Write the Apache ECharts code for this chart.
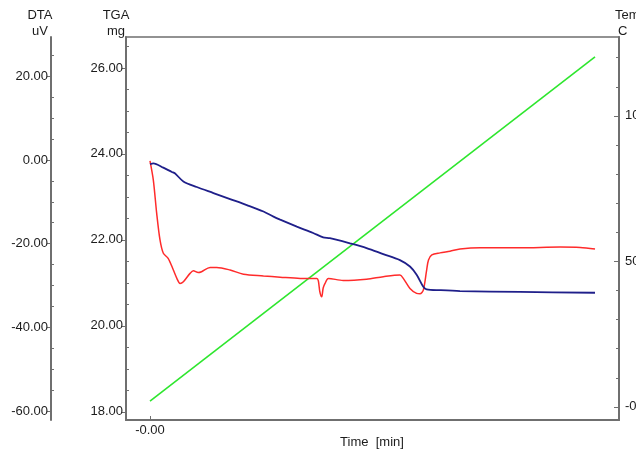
<!DOCTYPE html>
<html>
<head>
<meta charset="utf-8">
<script src="https://cdn.jsdelivr.net/npm/echarts@6/dist/echarts.min.js"></script>
<style>
  html, body { margin: 0; padding: 0; background: #fff; }
  #chart { width: 636px; height: 452px; }
</style>
</head>
<body>
<div id="chart"></div>
<script>
// Time in minutes, TGA mass in mg
const tgaTime = [0, 0.09, 0.36, 0.59, 0.67, 0.90, 1.26, 1.71, 2.16, 2.61, 3.06, 3.33, 3.51, 3.96, 4.40, 4.67, 4.85, 5.39, 5.84, 6.29, 6.74, 7.01, 7.19, 7.37, 7.46, 7.82, 8.36, 9.98, 12.0];
const tgaMass = [23.76, 23.78, 23.68, 23.58, 23.55, 23.36, 23.23, 23.09, 22.95, 22.81, 22.66, 22.54, 22.47, 22.31, 22.16, 22.06, 22.04, 21.92, 21.81, 21.67, 21.53, 21.38, 21.19, 20.91, 20.85, 20.83, 20.81, 20.79, 20.77];

// Time in minutes, DTA signal in uV
const dtaTime = [0, 0.09, 0.18, 0.27, 0.36, 0.49, 0.63, 0.73, 0.81, 0.90, 1.08, 1.17, 1.30, 1.39, 1.62, 1.80, 2.16, 2.52, 3.06, 3.51, 4.05, 4.50, 4.54, 4.58, 4.63, 4.67, 4.72, 4.81, 5.21, 5.84, 6.29, 6.74, 6.83, 7.01, 7.19, 7.28, 7.37, 7.46, 7.51, 7.60, 7.82, 8.09, 8.36, 8.90, 9.98, 11.06, 11.60, 12.0];
const dtaSignal = [-0.2, -4.8, -12.7, -19.1, -22.3, -23.5, -26.3, -28.4, -29.5, -29.1, -27.1, -26.5, -26.9, -26.7, -25.7, -25.7, -26.3, -27.3, -27.7, -28.0, -28.3, -28.3, -28.9, -31.5, -32.7, -30.6, -29.5, -28.3, -28.8, -28.5, -27.9, -27.5, -28.3, -30.7, -31.9, -32.0, -31.1, -26.3, -23.9, -22.7, -22.2, -21.8, -21.3, -21.0, -21.0, -20.8, -20.9, -21.3];

// Furnace temperature program, C
const tempTime = [0, 12.0];
const tempValue = [2.0, 120.3];

// Axis tick values
const tgaMajor = [18, 20, 22, 24, 26];
const tgaMinor = [18.5, 19, 19.5, 20.5, 21, 21.5, 22.5, 23, 23.5, 24.5, 25, 25.5, 26.5];
const dtaMajor = [20, 0, -20, -40, -60];
const dtaMinor = [25, 15, 10, 5, -5, -10, -15, -25, -30, -35, -45, -50, -55];
const tempMajor = [0, 50, 100];
const tempMinor = [10, 20, 30, 40, 60, 70, 80, 90, 110, 120];
const timeTicks = [0];

const axisGray = '#6f6f6f';
const textColor = '#1c1c1c';
const font = 'Liberation Sans, Arial, sans-serif';

function pairs(xs, ys) { return xs.map((x, i) => [x, ys[i]]); }
function fmt2(v) { return v.toFixed(2); }
function fmtSignedZero(v) { return v === 0 ? '-0.00' : v.toFixed(2); }

function majorAxis(opts) {
  return Object.assign({
    type: 'value',
    axisLine: { show: true, onZero: false, lineStyle: { color: axisGray, width: 2 } },
    axisTick: { show: true, inside: !!opts.tickInside, length: opts.tickInside ? 5 : 4, customValues: opts.ticks, lineStyle: { color: axisGray, width: 1 } },
    axisLabel: { show: true, customValues: opts.ticks, formatter: opts.formatter || fmt2, color: textColor, fontSize: 13, fontFamily: font, margin: opts.labelMargin || 3 },
    splitLine: { show: false },
    minorTick: { show: false }
  }, opts.extra);
}
function minorAxis(opts) {
  return Object.assign({
    type: 'value',
    axisLine: { show: false, onZero: false },
    axisTick: { show: true, inside: true, length: 3, customValues: opts.ticks, lineStyle: { color: axisGray, width: 1 } },
    axisLabel: { show: false },
    splitLine: { show: false }
  }, opts.extra);
}

const tgaRange = { min: 17.81, max: 26.72 };
const dtaRange = { min: -62.15, max: 29.4 };
const tempRange = { min: -4.5, max: 127.1 };

const chart = echarts.init(document.getElementById('chart'), null, { renderer: 'canvas' });
chart.setOption({
  animation: false,
  backgroundColor: '#ffffff',
  grid: {
    left: 126, right: 17, top: 37, bottom: 32,
    containLabel: false, outerBoundsMode: 'none',
    show: true, borderColor: axisGray, borderWidth: 1.5, backgroundColor: 'transparent'
  },
  xAxis: [{
    type: 'value', min: -0.647, max: 12.647, position: 'bottom',
    axisLine: { show: true, onZero: false, lineStyle: { color: axisGray, width: 2 } },
    axisTick: { show: true, inside: true, length: 4, customValues: timeTicks, lineStyle: { color: axisGray } },
    axisLabel: { show: true, customValues: timeTicks, formatter: fmtSignedZero, color: textColor, fontSize: 13, fontFamily: font, margin: 4 },
    splitLine: { show: false }
  }],
  yAxis: [
    majorAxis({ ticks: tgaMajor, extra: Object.assign({ position: 'left', offset: 0 }, tgaRange) }),
    minorAxis({ ticks: tgaMinor, extra: Object.assign({ position: 'left', offset: 0 }, tgaRange) }),
    majorAxis({ ticks: dtaMajor, extra: Object.assign({ position: 'left', offset: 75 }, dtaRange) }),
    minorAxis({ ticks: dtaMinor, extra: Object.assign({ position: 'left', offset: 75 }, dtaRange) }),
    majorAxis({ ticks: tempMajor, formatter: fmtSignedZero, tickInside: true, labelMargin: 6, extra: Object.assign({ position: 'right', offset: 0 }, tempRange) }),
    minorAxis({ ticks: tempMinor, extra: Object.assign({ position: 'right', offset: 0 }, tempRange) })
  ],
  series: [
    {
      name: 'DTA', type: 'line', xAxisIndex: 0, yAxisIndex: 2,
      data: pairs(dtaTime, dtaSignal), showSymbol: false, smooth: 0.3,
      lineStyle: { color: '#ff2b2b', width: 1.5 }, z: 3
    },
    {
      name: 'Temp', type: 'line', xAxisIndex: 0, yAxisIndex: 4,
      data: pairs(tempTime, tempValue), showSymbol: false,
      lineStyle: { color: '#2ee62e', width: 1.6 }, z: 2
    },
    {
      name: 'TGA', type: 'line', xAxisIndex: 0, yAxisIndex: 0,
      data: pairs(tgaTime, tgaMass), showSymbol: false, smooth: 0.3,
      lineStyle: { color: '#1f1f8a', width: 1.8 }, z: 4
    }
  ],
  graphic: [
    { type: 'text', x: 40, y: 15, style: { text: 'DTA', fill: textColor, font: '13px ' + font, textAlign: 'center', textVerticalAlign: 'middle' } },
    { type: 'text', x: 40, y: 31, style: { text: 'uV', fill: textColor, font: '13px ' + font, textAlign: 'center', textVerticalAlign: 'middle' } },
    { type: 'text', x: 116, y: 15, style: { text: 'TGA', fill: textColor, font: '13px ' + font, textAlign: 'center', textVerticalAlign: 'middle' } },
    { type: 'text', x: 116, y: 31, style: { text: 'mg', fill: textColor, font: '13px ' + font, textAlign: 'center', textVerticalAlign: 'middle' } },
    { type: 'text', x: 615, y: 15, style: { text: 'Temp', fill: textColor, font: '13px ' + font, textAlign: 'left', textVerticalAlign: 'middle' } },
    { type: 'text', x: 618, y: 31, style: { text: 'C', fill: textColor, font: '13px ' + font, textAlign: 'left', textVerticalAlign: 'middle' } },
    { type: 'text', x: 372, y: 442, style: { text: 'Time  [min]', fill: textColor, font: '13px ' + font, textAlign: 'center', textVerticalAlign: 'middle' } }
  ]
});
</script>
</body>
</html>
